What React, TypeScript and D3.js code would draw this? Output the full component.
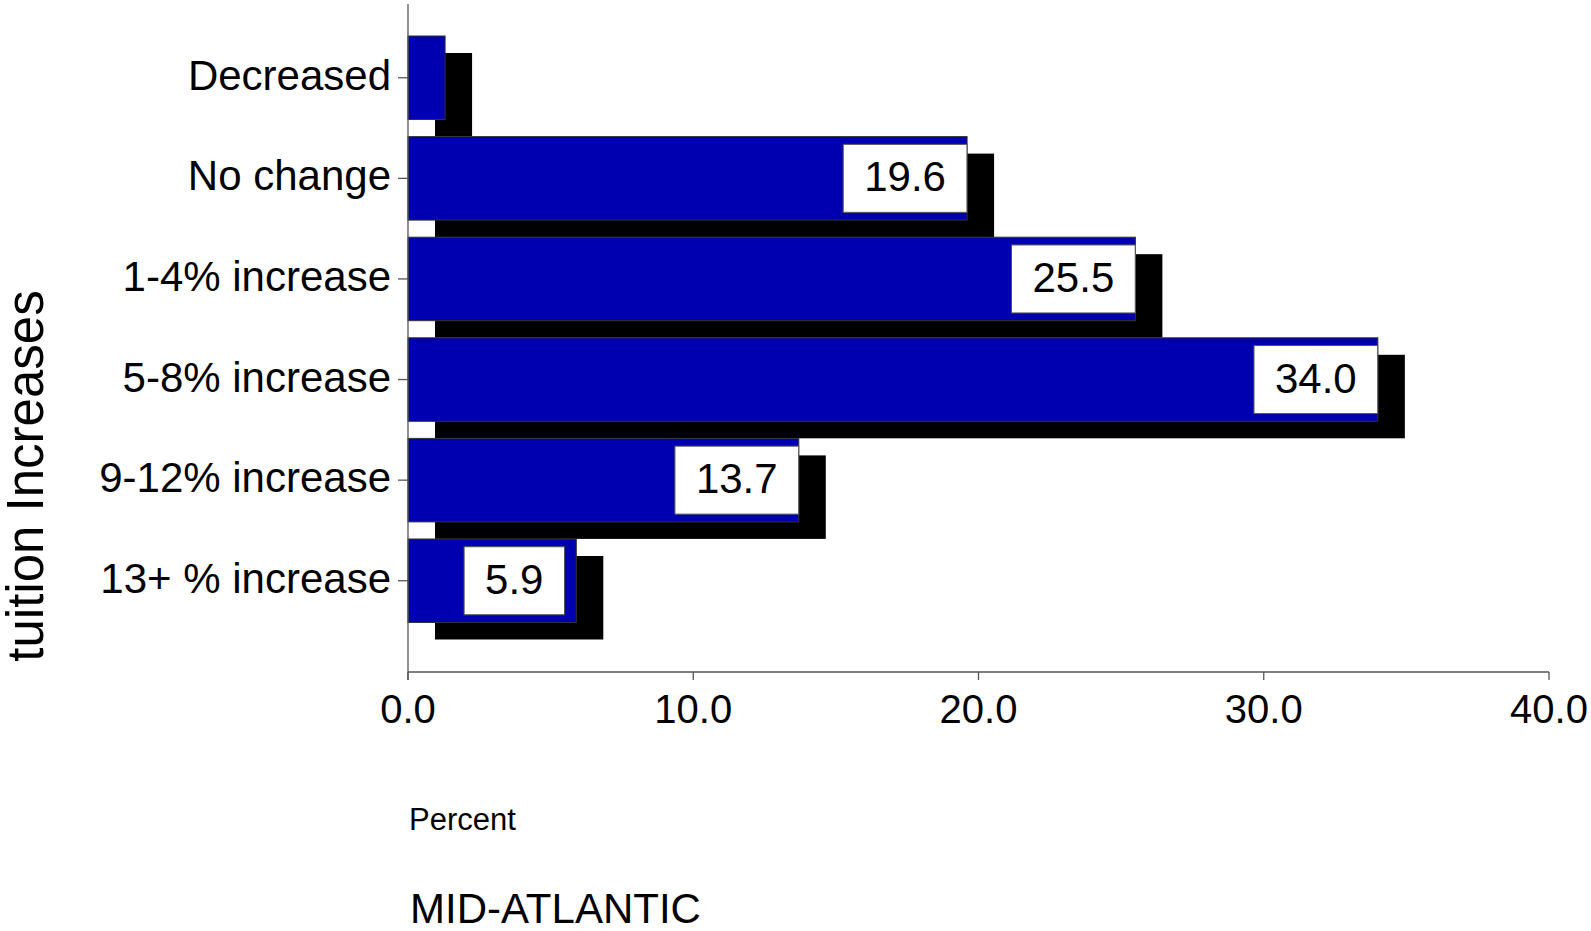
import React from "react";
import * as d3 from "d3";

const categories = ["Decreased", "No change", "1-4% increase", "5-8% increase", "9-12% increase", "13+ % increase"];
const values = [1.3, 19.6, 25.5, 34.0, 13.7, 5.9];
const showLabel = [false, true, true, true, true, true];
const xTicks = [0, 10, 20, 30, 40];
const xTitle = "Percent";
const yTitle = "tuition Increases";
const footer = "MID-ATLANTIC";

const W = 1591;
const H = 931;
const FONT = "'Liberation Sans', Arial, Helvetica, sans-serif";
const BLUE = "#0000b0";

const charW: Record<string, number> = { ".": 0.278 };
function textWidth(s: string, size: number) {
  let w = 0;
  for (const c of s) w += charW[c] ?? 0.556;
  return w * size;
}

export default function App() {
  const x = d3.scaleLinear().domain([0, 40]).range([408, 1549]);
  const y = d3.scaleBand<string>().domain(categories).range([36, 622.5]).paddingInner(0.17).paddingOuter(0);
  const bw = y.bandwidth();
  const dx = 27;
  const dy = 17;
  const axisY = 672;
  const axisX = 408;
  const labelSize = 42;

  return (
    <svg width={W} height={H} style={{ position: "absolute", left: 0, top: 0, background: "#fff" }} fontFamily={FONT}>
      {/* shadows */}
      {categories.map((c, i) => (
        <rect key={"s" + c} x={x(0) + dx} y={(y(c) as number) + dy} width={x(values[i]) - x(0)} height={bw} fill="#000" />
      ))}
      {/* bars */}
      {categories.map((c, i) => (
        <rect key={"b" + c} x={x(0)} y={y(c) as number} width={x(values[i]) - x(0)} height={bw} fill={BLUE} stroke="#333" strokeWidth={1} />
      ))}
      {/* value labels */}
      {categories.map((c, i) => {
        if (!showLabel[i]) return null;
        const txt = values[i].toFixed(1);
        const bwid = textWidth(txt, labelSize) + 42;
        const cx = x(values[i]) - 62;
        const cy = (y(c) as number) + bw / 2;
        return (
          <g key={"l" + c}>
            <rect x={cx - bwid / 2} y={cy - 34} width={bwid} height={68} fill="#fff" stroke="#555" strokeWidth={1} />
            <text x={cx} y={cy + 13} textAnchor="middle" fontSize={labelSize} fill="#000">{txt}</text>
          </g>
        );
      })}
      {/* y axis */}
      <line x1={axisX} x2={axisX} y1={4} y2={680} stroke="#555" strokeWidth={1.3} />
      {categories.map((c) => {
        const cy = (y(c) as number) + bw / 2;
        return (
          <g key={"t" + c}>
            <line x1={398} x2={axisX} y1={cy} y2={cy} stroke="#555" strokeWidth={1.3} />
            <text x={391} y={cy + 12} textAnchor="end" fontSize={42} fill="#000">{c}</text>
          </g>
        );
      })}
      {/* x axis */}
      <line x1={axisX} x2={x(40)} y1={axisY} y2={axisY} stroke="#555" strokeWidth={1.3} />
      {xTicks.map((t) => (
        <g key={"x" + t}>
          <line x1={x(t)} x2={x(t)} y1={axisY} y2={680} stroke="#555" strokeWidth={1.3} />
          <text x={x(t)} y={723} textAnchor="middle" fontSize={40} fill="#000">{t.toFixed(1)}</text>
        </g>
      ))}
      <text x={409} y={830} fontSize={31} fill="#000">{xTitle}</text>
      <text x={410} y={923} fontSize={42} fill="#000">{footer}</text>
      <text transform={`translate(43,476) rotate(-90)`} textAnchor="middle" fontSize={51} fill="#000">{yTitle}</text>
    </svg>
  );
}
